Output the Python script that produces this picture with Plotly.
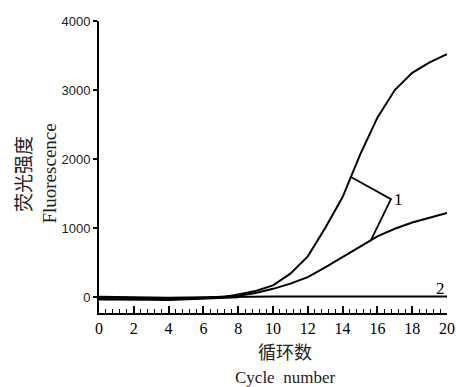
import plotly.graph_objects as go

cycles = list(range(0, 21))
curve1_high = [-20, -25, -30, -28, -30, -25, -20, -5, 40, 90, 170, 340, 590, 1000,
               1450, 2060, 2600, 3000, 3250, 3400, 3520]
curve1_low = [0, -10, -15, -20, -15, -20, -10, 0, 20, 60, 120, 195, 290, 430,
              580, 730, 880, 990, 1080, 1150, 1220]
curve2 = [5, 0, -5, -10, -10, -5, 0, 5, 8, 10, 10, 10, 10, 10, 10, 10, 10, 10, 10, 10, 10]
baseline_noise = [-30, -35, -40, -35, -38, -30, -25, -15, 0]
baseline_cycles = [0, 1, 2, 3, 4, 5, 6, 7, 8]

leader1_x = [14.48, 16.78, 15.63]
leader1_y = [1740, 1420, 826]
label1_pos = (17.2, 1420)
label2_pos = (19.65, 120)

x_ticks = list(range(0, 21, 2))
y_ticks = [0, 1000, 2000, 3000, 4000]

line = dict(color="black", width=2)
fig = go.Figure()
for ys in (curve1_high, curve1_low, curve2):
    fig.add_trace(go.Scatter(x=cycles, y=ys, mode="lines", line=line,
                             showlegend=False, hoverinfo="skip"))
fig.add_trace(go.Scatter(x=baseline_cycles, y=baseline_noise, mode="lines",
                         line=dict(color="black", width=2.5), showlegend=False))
fig.add_trace(go.Scatter(x=leader1_x, y=leader1_y, mode="lines",
                         line=dict(color="black", width=1.8), showlegend=False))

fig.add_annotation(x=label1_pos[0], y=label1_pos[1], text="1", showarrow=False,
                   font=dict(family="Liberation Serif", size=17, color="black"))
fig.add_annotation(x=label2_pos[0], y=label2_pos[1], text="2", showarrow=False,
                   font=dict(family="Liberation Serif", size=17, color="black"))

# axis titles
title_common = dict(xref="paper", yref="paper", showarrow=False,
                    xanchor="center", yanchor="middle")
fig.add_annotation(x=-0.221, y=0.476, text="荧光强度", textangle=-90,
                   font=dict(family="Noto Sans CJK SC", size=19, color="#222"),
                   **title_common)
fig.add_annotation(x=-0.145, y=0.476, text="Fluorescence", textangle=-90,
                   font=dict(family="Liberation Serif", size=19, color="#222"),
                   **title_common)
fig.add_annotation(x=0.534, y=-0.131, text="循环数",
                   font=dict(family="Noto Sans CJK SC", size=18, color="#222"),
                   **title_common)
fig.add_annotation(x=0.534, y=-0.222, text="Cycle  number",
                   font=dict(family="Liberation Serif", size=17, color="#222"),
                   **title_common)

fig.update_xaxes(range=[0, 20], tickvals=x_ticks, ticks="inside", ticklen=7,
                 tickwidth=1.5, tickcolor="black",
                 minor=dict(dtick=0.4, ticks="inside", ticklen=4, tickwidth=1.2,
                            tickcolor="black"),
                 showline=True, linecolor="black", linewidth=2, showgrid=False,
                 zeroline=False,
                 tickfont=dict(family="Liberation Serif", size=16, color="black"))
fig.update_yaxes(range=[-230, 4000], tickvals=y_ticks, ticks="outside", ticklen=4,
                 tickwidth=1.5, tickcolor="black",
                 showline=True, linecolor="black", linewidth=2, showgrid=False,
                 zeroline=False,
                 tickfont=dict(family="Liberation Sans", size=13, color="#222"))

fig.update_layout(width=456, height=387,
                  margin=dict(l=99, r=9, t=21, b=74, autoexpand=False),
                  plot_bgcolor="white", paper_bgcolor="white")
fig.write_html("out.html")
